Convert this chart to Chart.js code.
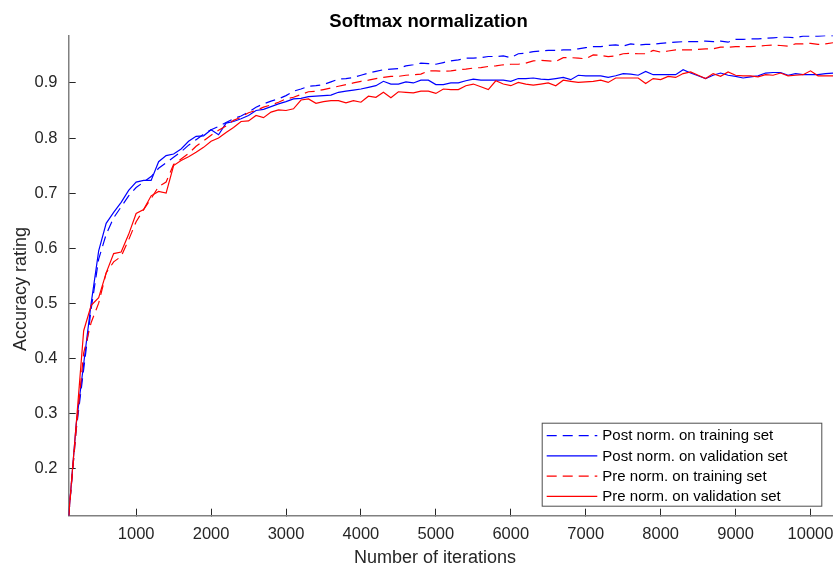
<!DOCTYPE html>
<html>
<head>
<meta charset="utf-8">
<script src="https://cdn.jsdelivr.net/npm/chart.js@4.4.1/dist/chart.umd.min.js"></script>
<style>
  html, body { margin: 0; padding: 0; background: #fff; overflow: hidden; }
  #wrap { width: 833px; height: 565px; }
</style>
</head>
<body>
<div id="wrap"><canvas id="myChart" width="833" height="565"></canvas></div>
<script>
// iterations (x values)
const iterations = [
  100, 200, 300, 400, 500, 600, 700, 800, 900, 1000,
  1100, 1200, 1300, 1400, 1500, 1600, 1700, 1800, 1900, 2000,
  2100, 2200, 2300, 2400, 2500, 2600, 2700, 2800, 2900, 3000,
  3100, 3200, 3300, 3400, 3500, 3600, 3700, 3800, 3900, 4000,
  4100, 4200, 4300, 4400, 4500, 4600, 4700, 4800, 4900, 5000,
  5100, 5200, 5300, 5400, 5500, 5600, 5700, 5800, 5900, 6000,
  6100, 6200, 6300, 6400, 6500, 6600, 6700, 6800, 6900, 7000,
  7100, 7200, 7300, 7400, 7500, 7600, 7700, 7800, 7900, 8000,
  8100, 8200, 8300, 8400, 8500, 8600, 8700, 8800, 8900, 9000,
  9100, 9200, 9300, 9400, 9500, 9600, 9700, 9800, 9900, 10000,
  10100, 10200, 10300
];

// tick labels
const xTicks = [1000, 2000, 3000, 4000, 5000, 6000, 7000, 8000, 9000, 10000];
const yTicks = [0.2, 0.3, 0.4, 0.5, 0.6, 0.7, 0.8, 0.9];

// Post norm. on training set
const postTrain = [
  0.114, 0.27, 0.38, 0.49, 0.58, 0.625, 0.655, 0.675, 0.695, 0.71,
  0.72, 0.73, 0.745, 0.755, 0.765, 0.775, 0.787, 0.797, 0.807, 0.815,
  0.821, 0.828, 0.835, 0.84, 0.847, 0.856, 0.862, 0.867, 0.871, 0.877,
  0.885, 0.889, 0.894, 0.895, 0.897, 0.902, 0.907, 0.908, 0.91, 0.914,
  0.918, 0.921, 0.924, 0.925, 0.926, 0.931, 0.933, 0.936, 0.935, 0.934,
  0.937, 0.94, 0.942, 0.945, 0.945, 0.946, 0.948, 0.948, 0.949, 0.946,
  0.953, 0.954, 0.957, 0.958, 0.959, 0.959, 0.96, 0.96, 0.962, 0.964,
  0.966, 0.966, 0.968, 0.969, 0.967, 0.971, 0.969, 0.97, 0.97, 0.972,
  0.973, 0.974, 0.975, 0.975, 0.975, 0.976, 0.975, 0.976, 0.974, 0.979,
  0.979, 0.98, 0.98, 0.981, 0.982, 0.983, 0.983, 0.982, 0.985, 0.985,
  0.985, 0.986, 0.986
];

// Post norm. on validation set
const postVal = [
  0.114, 0.28, 0.39, 0.50, 0.595, 0.645, 0.665, 0.683, 0.705, 0.72,
  0.723, 0.723, 0.757, 0.768, 0.771, 0.78, 0.794, 0.803, 0.804, 0.815,
  0.806, 0.827, 0.83, 0.835, 0.841, 0.85, 0.852, 0.857, 0.862, 0.866,
  0.871, 0.872, 0.875, 0.876, 0.877, 0.878, 0.883, 0.885, 0.887, 0.889,
  0.892, 0.895, 0.903, 0.898, 0.898, 0.902, 0.90, 0.905, 0.905, 0.897,
  0.897, 0.90, 0.90, 0.904, 0.907, 0.905, 0.905, 0.905, 0.905, 0.903,
  0.908, 0.908, 0.909, 0.907, 0.906, 0.908, 0.91, 0.906, 0.914, 0.913,
  0.913, 0.913, 0.91, 0.913, 0.917, 0.916, 0.914, 0.921, 0.915, 0.915,
  0.915, 0.915, 0.924, 0.918, 0.913, 0.908, 0.914, 0.918, 0.914, 0.912,
  0.909, 0.911, 0.913, 0.918, 0.919, 0.919, 0.914, 0.917, 0.915, 0.915,
  0.915, 0.917, 0.918
];

// Pre norm. on training set
const preTrain = [
  0.114, 0.27, 0.41, 0.465, 0.50, 0.555, 0.575, 0.585, 0.615, 0.648,
  0.67, 0.69, 0.712, 0.72, 0.752, 0.762, 0.772, 0.785, 0.795, 0.805,
  0.814, 0.822, 0.832, 0.838, 0.846, 0.85, 0.856, 0.86, 0.865, 0.871,
  0.874, 0.879, 0.884, 0.885, 0.888, 0.891, 0.894, 0.897, 0.90, 0.903,
  0.905, 0.908, 0.91, 0.912, 0.912, 0.914, 0.915, 0.916, 0.922, 0.922,
  0.921, 0.922, 0.924, 0.925, 0.927, 0.928, 0.93, 0.931, 0.933, 0.934,
  0.934, 0.936, 0.94, 0.941, 0.94, 0.939, 0.946, 0.946, 0.945, 0.944,
  0.951, 0.95, 0.948, 0.949, 0.953, 0.954, 0.953, 0.953, 0.959, 0.956,
  0.958, 0.96, 0.96, 0.96, 0.961, 0.962, 0.962, 0.965, 0.965, 0.966,
  0.966, 0.966, 0.967, 0.968, 0.969, 0.968, 0.967, 0.971, 0.971, 0.972,
  0.97, 0.971, 0.973
];

// Pre norm. on validation set
const preVal = [
  0.114, 0.28, 0.45, 0.496, 0.51, 0.555, 0.59, 0.593, 0.625, 0.663,
  0.67, 0.695, 0.703, 0.70, 0.75, 0.759, 0.766, 0.774, 0.783, 0.794,
  0.80, 0.81, 0.819, 0.83, 0.831, 0.841, 0.837, 0.847, 0.851, 0.85,
  0.853, 0.869, 0.871, 0.863, 0.866, 0.868, 0.868, 0.864, 0.868, 0.865,
  0.876, 0.874, 0.883, 0.873, 0.884, 0.883, 0.882, 0.885, 0.885, 0.881,
  0.889, 0.888, 0.888, 0.895, 0.898, 0.893, 0.888, 0.904, 0.898, 0.895,
  0.901, 0.898, 0.896, 0.898, 0.90, 0.895, 0.905, 0.903, 0.901, 0.902,
  0.903, 0.905, 0.901, 0.909, 0.909, 0.909, 0.909, 0.899, 0.908, 0.906,
  0.912, 0.91, 0.917, 0.92, 0.914, 0.908, 0.917, 0.912, 0.92, 0.914,
  0.913, 0.913, 0.911, 0.915, 0.914, 0.918, 0.913, 0.914, 0.915, 0.922,
  0.913, 0.913, 0.913
];

const seriesLabels = [
  "Post norm. on training set",
  "Post norm. on validation set",
  "Pre norm. on training set",
  "Pre norm. on validation set"
];

const FONT = "'Liberation Sans', Arial, Helvetica, sans-serif";
const TXT = "#262626";

function toPoints(values) {
  return values.map((v, i) => ({ x: iterations[i], y: v }));
}

// legend box drawn inside the plot, bottom right (like matlab 'southeast')
const boxLegend = {
  id: "boxLegend",
  afterDraw(chart) {
    const ctx = chart.ctx;
    const area = chart.chartArea;
    const w = 280.6, h = 84;
    const x0 = area.right - 10.7 - w;
    const y0 = area.bottom - 9 - h;
    ctx.save();
    ctx.fillStyle = "#fff";
    ctx.fillRect(x0, y0, w, h);
    ctx.strokeStyle = "#4d4d4d";
    ctx.lineWidth = 1;
    ctx.strokeRect(x0 + 0.5, y0 + 0.5, w - 1, h - 1);
    ctx.font = "15px " + FONT;
    ctx.textBaseline = "middle";
    ctx.textAlign = "left";
    chart.data.datasets.forEach((ds, i) => {
      const y = y0 + 13 + i * 20.2;
      ctx.beginPath();
      ctx.setLineDash(ds.borderDash || []);
      ctx.strokeStyle = ds.borderColor;
      ctx.lineWidth = ds.borderWidth;
      ctx.moveTo(x0 + 5, y);
      ctx.lineTo(x0 + 55.6, y);
      ctx.stroke();
      ctx.setLineDash([]);
      ctx.fillStyle = "#000";
      ctx.fillText(ds.label, x0 + 60.6, y + 0.5);
    });
    ctx.restore();
  }
};

// axis labels (matlab puts them a bit off the axes centre here)
const axisLabels = {
  id: "axisLabels",
  afterDraw(chart) {
    const ctx = chart.ctx;
    ctx.save();
    ctx.font = "18px " + FONT;
    ctx.fillStyle = TXT;
    ctx.textAlign = "center";
    ctx.textBaseline = "alphabetic";
    ctx.fillText("Number of iterations", 435, 563);
    ctx.translate(26, 289);
    ctx.rotate(-Math.PI / 2);
    ctx.fillText("Accuracy rating", 0, 0);
    ctx.restore();
  }
};

const config = {
  type: "line",
  data: {
    datasets: [
      { label: seriesLabels[0], data: toPoints(postTrain), borderColor: "#0000ff", borderDash: [10, 6], borderWidth: 1.2, order: 4 },
      { label: seriesLabels[1], data: toPoints(postVal), borderColor: "#0000ff", borderWidth: 1.2, order: 3 },
      { label: seriesLabels[2], data: toPoints(preTrain), borderColor: "#ff0000", borderDash: [10, 6], borderWidth: 1.2, order: 2 },
      { label: seriesLabels[3], data: toPoints(preVal), borderColor: "#ff0000", borderWidth: 1.2, order: 1 }
    ]
  },
  options: {
    responsive: false,
    animation: false,
    devicePixelRatio: 1,
    layout: { padding: { left: 24, right: 0, top: 0, bottom: 0 } },
    elements: { point: { radius: 0 }, line: { tension: 0, fill: false } },
    plugins: {
      legend: { display: false },
      tooltip: { enabled: false },
      title: {
        display: true,
        text: "Softmax normalization",
        color: "#000",
        font: { family: FONT, size: 18.5, weight: "bold" },
        padding: { top: 11, bottom: 2.4 }
      }
    },
    scales: {
      x: {
        type: "linear",
        min: 100,
        max: 10300,
        border: { color: "#808080", width: 1.5 },
        grid: { drawOnChartArea: false, tickLength: -7, tickColor: TXT, tickWidth: 1 },
        ticks: {
          padding: 15.4, color: TXT,
          font: { family: FONT, size: 16.5 }, maxRotation: 0, autoSkip: false,
          callback: (v) => String(v)
        },
        afterBuildTicks(s) { s.ticks = xTicks.map((v) => ({ value: v })); },
        afterFit(s) { s.height = 49.3; s.paddingLeft = 0; s.paddingRight = 0; }
      },
      y: {
        min: 0.114,
        max: 0.986,
        border: { color: "#808080", width: 1.5 },
        grid: { drawOnChartArea: false, tickLength: -7, tickColor: TXT, tickWidth: 1 },
        ticks: {
          padding: 18.2, color: TXT,
          font: { family: FONT, size: 16.5 },
          callback: (v) => v.toFixed(1)
        },
        afterBuildTicks(s) { s.ticks = yTicks.map((v) => ({ value: v })); },
        afterFit(s) { s.width = 44.7; s.paddingTop = 0; s.paddingBottom = 0; }
      }
    }
  },
  plugins: [boxLegend, axisLabels]
};

const chartDOM = document.getElementById("myChart").getContext("2d");
window.myChart = new Chart(chartDOM, config);
</script>
</body>
</html>
